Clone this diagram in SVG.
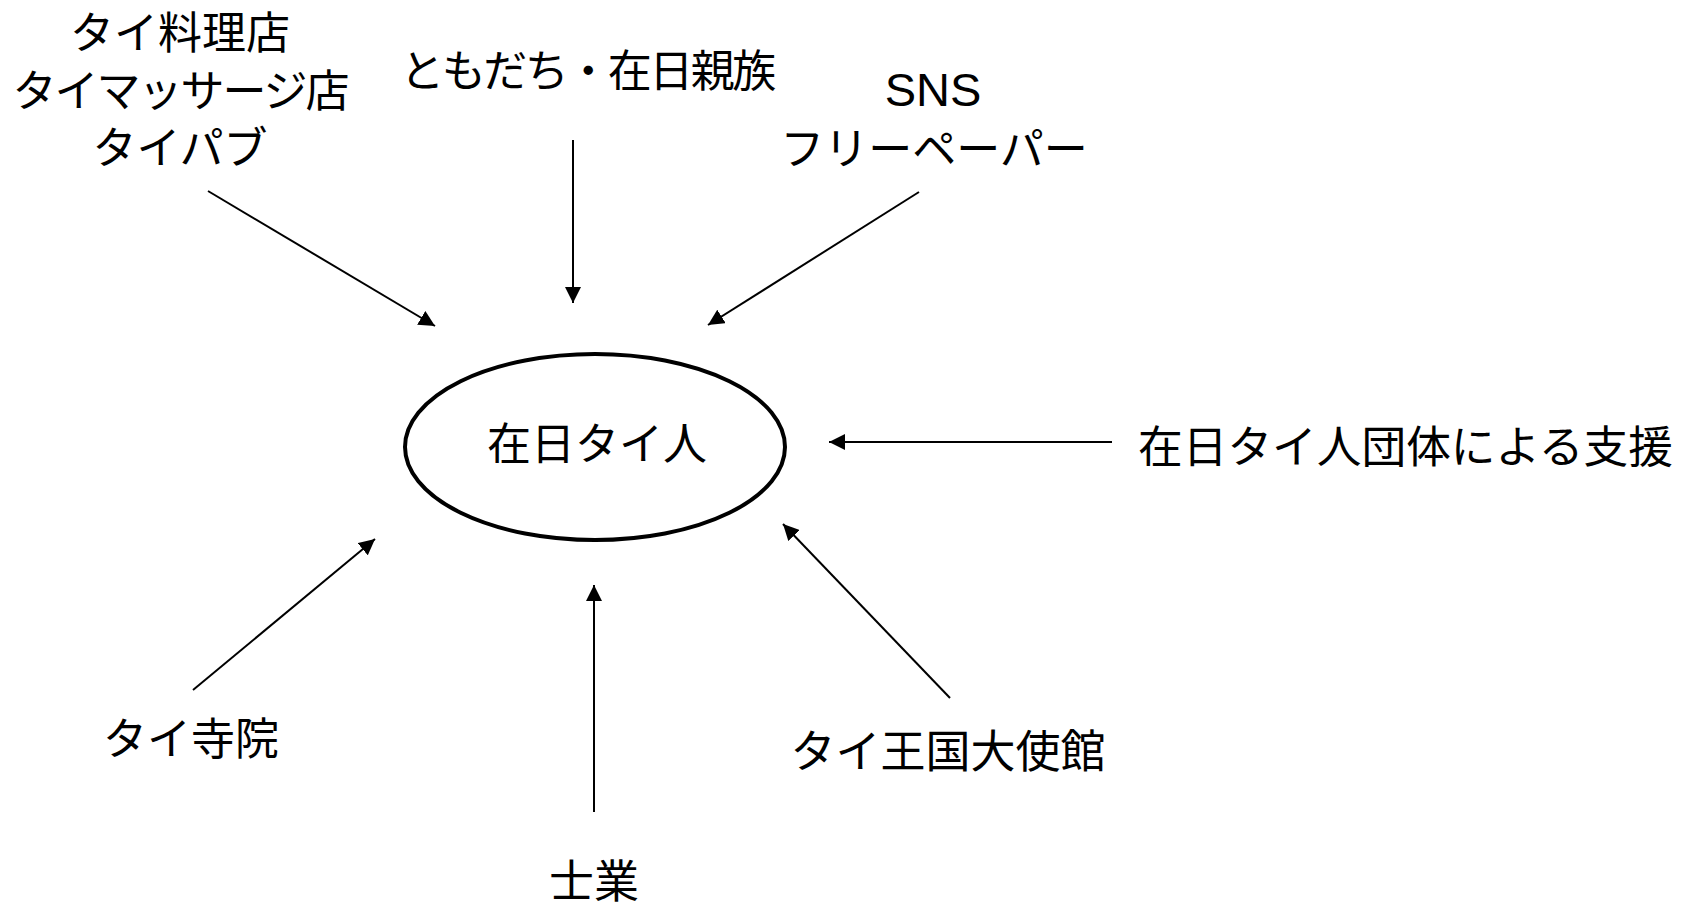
<svg xmlns="http://www.w3.org/2000/svg" width="1692" height="910" viewBox="0 0 1692 910">
<style>
.t{font-family:"Liberation Sans","Noto Sans CJK JP",sans-serif;font-size:44px;fill:#000;text-anchor:middle}
.c line{stroke:#000;stroke-width:2}
</style>
<defs>
<marker id="ah" viewBox="0 0 10 10" refX="10" refY="5" markerWidth="8" markerHeight="8" markerUnits="strokeWidth" orient="auto">
<path d="M0,0 L10,5 L0,10 z" fill="#000"/>
</marker>
</defs>
<rect width="1692" height="910" fill="#fff"/>
<g id="center">
<ellipse cx="595" cy="447" rx="190" ry="93" fill="none" stroke="#000" stroke-width="4"/>
<text class="t" x="597" y="460">在日タイ人</text>
</g>
<g id="shops">
<text class="t" x="180" y="49">タイ料理店</text>
<text class="t" x="180" y="107" letter-spacing="-2">タイマッサージ店</text>
<text class="t" x="180" y="164">タイパブ</text>
</g>
<g id="friends"><text class="t" x="587" y="87" letter-spacing="-2.5">ともだち・在日親族</text></g>
<g id="sns">
<text class="t" x="933" y="106" style="font-size:47px">SNS</text>
<text class="t" x="934" y="165">フリーペーパー</text>
</g>
<g id="groups"><text class="t" x="1138" y="463" style="font-size:44.7px;text-anchor:start">在日タイ人団体による支援</text></g>
<g id="temple"><text class="t" x="191" y="755">タイ寺院</text></g>
<g id="embassy"><text class="t" x="948" y="768" style="font-size:45px">タイ王国大使館</text></g>
<g id="shigyo"><text class="t" x="594" y="898" style="font-size:45px">士業</text></g>
<g class="c" id="connectors">
<line x1="208" y1="191" x2="435" y2="326" marker-end="url(#ah)"/>
<line x1="573" y1="140" x2="573" y2="303" marker-end="url(#ah)"/>
<line x1="919" y1="192" x2="708" y2="325" marker-end="url(#ah)"/>
<line x1="1112" y1="442" x2="829" y2="442" marker-end="url(#ah)"/>
<line x1="193" y1="690" x2="375" y2="539" marker-end="url(#ah)"/>
<line x1="594" y1="812" x2="594" y2="585" marker-end="url(#ah)"/>
<line x1="950" y1="698" x2="783" y2="524" marker-end="url(#ah)"/>
</g>
</svg>
